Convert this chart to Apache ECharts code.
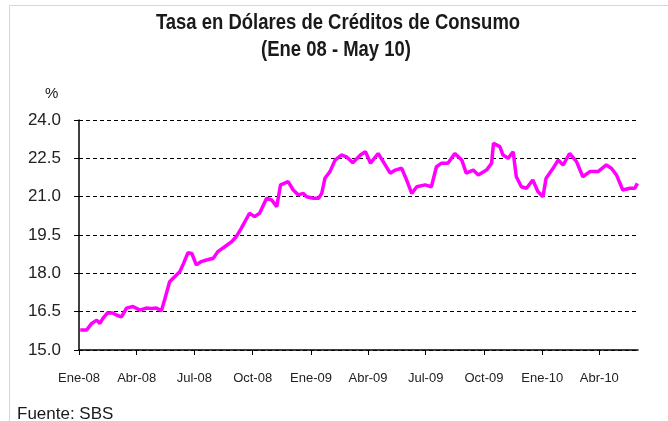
<!DOCTYPE html>
<html>
<head>
<meta charset="utf-8">
<script src="https://cdn.jsdelivr.net/npm/echarts@6/dist/echarts.min.js"></script>
<style>
html,body{margin:0;padding:0;background:#fff;}
#chart{width:668px;height:421px;}
</style>
</head>
<body>
<div id="chart"></div>
<script>
const titleText = "Tasa en Dólares de Créditos de Consumo";
const subtitleText = "(Ene 08 - May 10)";
const sourceText = "Fuente: SBS";
const unitText = "%";

const dates = [
"2008-01-03","2008-01-13","2008-01-21","2008-01-29","2008-02-03","2008-02-08","2008-02-15","2008-02-23","2008-02-29","2008-03-08",
"2008-03-16","2008-03-26","2008-04-06","2008-04-16","2008-04-24","2008-05-02","2008-05-10","2008-05-15","2008-05-23","2008-05-31",
"2008-06-08","2008-06-14","2008-06-21","2008-06-27","2008-07-04","2008-07-12","2008-07-20","2008-07-31","2008-08-07","2008-08-18",
"2008-08-29","2008-09-05","2008-09-13","2008-09-26","2008-10-04","2008-10-12","2008-10-23","2008-10-31","2008-11-08","2008-11-14",
"2008-11-26","2008-12-04","2008-12-12","2008-12-20","2008-12-25","2009-01-05","2009-01-13","2009-01-18","2009-01-23","2009-01-31",
"2009-02-08","2009-02-18","2009-02-26","2009-03-08","2009-03-20","2009-03-28","2009-04-05","2009-04-17","2009-04-25","2009-05-06",
"2009-05-14","2009-05-24","2009-06-01","2009-06-09","2009-06-17","2009-06-30","2009-07-10","2009-07-18","2009-07-26","2009-08-05",
"2009-08-16","2009-08-27","2009-09-03","2009-09-14","2009-09-22","2009-10-05","2009-10-13","2009-10-16","2009-10-26","2009-10-31",
"2009-11-08","2009-11-16","2009-11-21","2009-11-29","2009-12-07","2009-12-17","2009-12-25","2010-01-02","2010-01-07","2010-01-18",
"2010-01-26","2010-02-03","2010-02-13","2010-02-24","2010-03-06","2010-03-17","2010-03-30","2010-04-12","2010-04-20","2010-04-28",
"2010-05-08","2010-05-19","2010-05-27","2010-05-31"
];
const rates = [
15.78,15.78,16.04,16.17,16.04,16.25,16.45,16.45,16.37,16.30,
16.64,16.70,16.56,16.64,16.62,16.64,16.54,16.96,17.67,17.87,
18.06,18.39,18.81,18.78,18.33,18.46,18.52,18.59,18.85,19.04,
19.24,19.43,19.76,20.35,20.22,20.35,20.94,20.87,20.61,21.46,
21.59,21.26,21.07,21.13,21.00,20.94,20.94,21.13,21.72,21.98,
22.43,22.63,22.56,22.33,22.63,22.76,22.31,22.69,22.37,21.92,
22.04,22.11,21.65,21.13,21.39,21.46,21.39,22.17,22.31,22.31,
22.69,22.43,21.92,22.04,21.85,22.04,22.31,23.09,22.96,22.63,
22.50,22.76,21.78,21.39,21.33,21.65,21.20,21.00,21.72,22.11,
22.43,22.24,22.69,22.37,21.78,21.98,21.98,22.24,22.11,21.85,
21.26,21.33,21.33,21.52
];
const tickDates = ["2008-01-01","2008-04-01","2008-07-01","2008-10-01","2009-01-01","2009-04-01","2009-07-01","2009-10-01","2010-01-01","2010-04-01"];
const tickLabels = ["Ene-08","Abr-08","Jul-08","Oct-08","Ene-09","Abr-09","Jul-09","Oct-09","Ene-10","Abr-10"];
const axisStart = "2008-01-01", axisEnd = "2010-06-01";
const yMin = 15.0, yMax = 24.0, yStep = 1.5;

const DAY = 86400000;
const toTs = s => { const p = s.split("-"); return Date.UTC(+p[0], +p[1]-1, +p[2]); };
const t0 = toTs(axisStart);
const toDay = s => Math.round((toTs(s) - t0) / DAY);
const tickDays = tickDates.map(toDay);
const labelByDay = {};
tickDays.forEach((t, i) => { labelByDay[t] = tickLabels[i]; });
const seriesData = dates.map((d, i) => [toDay(d), rates[i]]);

const chart = echarts.init(document.getElementById('chart'), null, {renderer: 'canvas'});
const font = '"Liberation Sans", Arial, sans-serif';
chart.setOption({
  animation: false,
  backgroundColor: '#ffffff',
  title: [
    {text: unitText, left: 40, top: 81, textStyle: {fontFamily: font, fontSize: 15, fontWeight: 'normal', color: '#1a1a1a'}},
    {text: sourceText, left: 12, top: 401, textStyle: {fontFamily: font, fontSize: 17, fontWeight: 'normal', color: '#1a1a1a'}}
  ],
  graphic: [
    {type: 'rect', shape: {x: 9.5, y: 5.5, width: 700, height: 500}, style: {fill: 'none', stroke: '#d4d4e6', lineWidth: 1}, silent: true, z: -1},
    {type: 'text', x: 338, y: 23, scaleX: 0.84, style: {text: titleText, font: 'bold 22px "Liberation Sans", Arial, sans-serif', fill: '#1a1a1a', align: 'center', verticalAlign: 'middle'}},
    {type: 'text', x: 336, y: 50, scaleX: 0.84, style: {text: subtitleText, font: 'bold 22px "Liberation Sans", Arial, sans-serif', fill: '#1a1a1a', align: 'center', verticalAlign: 'middle'}}
  ],
  grid: {left: 79, right: 30, top: 120, bottom: 71, containLabel: false},
  xAxis: {
    type: 'value',
    min: 0,
    max: toDay(axisEnd),
    axisLine: {show: true, onZero: false, lineStyle: {color: '#000', width: 1.5}},
    axisTick: {show: true, length: 5, lineStyle: {color: '#000'}, customValues: tickDays},
    axisLabel: {
      customValues: tickDays,
      margin: 22,
      fontFamily: font, fontSize: 13, color: '#222',
      formatter: v => labelByDay[v] || ''
    },
    splitLine: {show: false}
  },
  yAxis: {
    type: 'value',
    min: yMin, max: yMax, interval: yStep,
    axisLine: {show: true, lineStyle: {color: '#000', width: 1.5}},
    axisTick: {show: true, length: 5, lineStyle: {color: '#000'}},
    axisLabel: {margin: 18, fontFamily: font, fontSize: 17, color: '#222', formatter: v => v.toFixed(1)},
    splitLine: {show: true, lineStyle: {color: '#000', type: [4, 3], width: 1}}
  },
  series: [{
    type: 'line',
    data: seriesData,
    showSymbol: false,
    symbol: 'none',
    lineStyle: {color: '#ff00ff', width: 3.5},
    itemStyle: {color: '#ff00ff'}
  }]
});
</script>
</body>
</html>
